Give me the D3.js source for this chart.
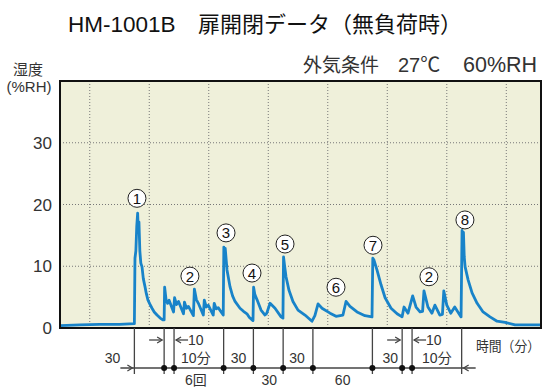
<!DOCTYPE html>
<html>
<head>
<meta charset="utf-8">
<script src="https://cdn.jsdelivr.net/npm/d3@7"></script>
<style>
body { margin: 0; background: #fff; }
text { font-family: "Liberation Sans", "Noto Sans CJK JP", sans-serif; }
</style>
</head>
<body>
<div id="chart"></div>
<script>
// humidity trace, time in minutes from chart start
const minutes = [0, 20, 40, 60, 75, 75.6, 76.5, 77.4, 78.3, 79, 79.6, 80.5, 81.5, 82.7, 84, 85.7, 87, 88.7, 90.5, 92.8, 95, 97.8, 101, 104,
    105, 105.5, 107, 108.5, 110, 114.5, 115.5, 117.5, 119.5, 124.5, 125.5, 127.5, 129.5, 134.5, 135.5, 137.5, 139.5, 144.5,
    145.5, 147.5, 149.5, 154.5, 155.5, 157.5, 159.5, 164.6,
    165.2, 166, 166.6, 168.4, 171.4, 174, 176.5, 181.5, 185, 188.5, 191, 194.6,
    195.2, 196.5, 198.6, 202.7, 206.7, 208.5, 211.8, 216.8, 222.9, 224.8,
    225.4, 226.5, 227.9, 230.9, 234.9, 240, 247, 254.1,
    257, 260.2, 264.2, 272.3, 278.3, 285.3, 288.4, 292.4, 299.5, 307.5, 314.6,
    315.4, 316.6, 319.6, 323.7, 327.8, 333.8, 339.9, 344.9,
    346.9, 350.9, 355.6, 359, 363, 365.6, 367, 371, 375, 378, 383, 385.6, 387, 390, 394, 398, 404.4,
    405.4, 406.2, 406.8, 407.6, 408.5, 411.5, 415.5, 420.6, 426.6, 433.6, 440.7, 448.7, 458.8, 485];
const rh = [0.4, 0.5, 0.6, 0.6, 0.7, 11.3, 12.5, 16.5, 18.6, 15.5, 17.2, 12.5, 10.5, 9.9, 8.0, 6.7, 5.6, 4.5, 3.9, 3.2, 2.6, 2.1, 1.6, 1.3,
    1.3, 6.6, 4.5, 4.0, 4.5, 2.6, 4.9, 3.8, 4.3, 2.3, 4.2, 3.2, 3.5, 2.0, 6.3, 4.6, 4.0, 2.1,
    4.5, 3.4, 3.7, 2.1, 4.0, 3.1, 3.3, 2.1,
    13.1, 11.5, 12.9, 9.4, 6.7, 5.2, 4.3, 3.2, 2.7, 2.3, 1.7, 1.2,
    6.6, 5.4, 4.6, 2.9, 2.1, 2.4, 4.0, 3.2, 1.8, 1.6,
    11.5, 10, 8.3, 6.1, 4.3, 2.9, 2.1, 1.1,
    2.0, 3.9, 3.2, 2.4, 1.9, 2.1, 4.3, 3.5, 2.6, 2.0, 1.8,
    11.3, 11.0, 9.4, 7.0, 4.9, 3.2, 2.3, 1.8,
    3.4, 2.4, 5.2, 3.4, 2.6, 2.7, 6.0, 3.4, 2.4, 3.7, 2.1, 2.2, 6.0, 3.7, 2.4, 3.4, 1.8,
    15.8, 13.5, 15.5, 11.5, 9.9, 7.8, 5.7, 4.0, 2.6, 1.8, 1.1, 0.9, 0.5, 0.5];

const yTicks = [0, 10, 20, 30];
const gridValues = [10, 20, 30];
const gridMinutes = [30, 90, 150, 210, 270, 330, 390, 450];

// door events
const eventMinutes = [75, 105, 115, 165, 195, 225, 255, 315, 345, 355, 405];
const dotMinutes = [105, 115, 165, 195, 225, 255, 315, 345, 355];
const cycleStarts = [105, 345];

const markerNames = ["1", "2", "3", "4", "5", "6", "7", "2", "8"];
const markerMinutes = [77.6, 131, 167.4, 193.6, 226.9, 278.3, 315.6, 372, 408.3];
const markerValues = [21, 8.4, 15.4, 8.9, 13.6, 6.6, 13.4, 8.3, 17.5];

const spanLabels = ["30", "10分", "30", "30", "30", "10分"];
const spanMinutes = [53, 137, 180, 239, 333, 380];
const totalLabels = ["6回", "30", "60"];
const totalMinutes = [137, 211, 285];

const width = 550, height = 390;
const svg = d3.select("#chart").append("svg")
    .attr("width", width)
    .attr("height", height);

const x = d3.scaleLinear().domain([0, 485]).range([60, 541]);
const y = d3.scaleLinear().domain([0, 40]).range([328, 81]);

// titles
svg.append("text").attr("x", 68).attr("y", 32)
    .style("font-size", "22.5px").attr("fill", "#111")
    .text("HM-1001B");
svg.append("text").attr("x", 198).attr("y", 32)
    .style("font-size", "22px").attr("fill", "#111")
    .text("扉開閉データ（無負荷時）");

svg.append("text").attr("x", 303).attr("y", 72)
    .style("font-size", "19px").attr("fill", "#333")
    .text("外気条件");
svg.append("text").attr("x", 398).attr("y", 72)
    .style("font-size", "20px").attr("fill", "#333")
    .text("27℃");
svg.append("text").attr("x", 463).attr("y", 72)
    .style("font-size", "21.5px").attr("fill", "#333")
    .text("60%RH");

svg.append("text").attr("x", 28).attr("y", 75)
    .attr("text-anchor", "middle")
    .style("font-size", "15px").attr("fill", "#333")
    .text("湿度");
svg.append("text").attr("x", 29).attr("y", 92)
    .attr("text-anchor", "middle")
    .style("font-size", "15px").attr("fill", "#333")
    .text("(%RH)");

// plot area
svg.append("rect")
    .attr("x", x(0)).attr("y", y(40))
    .attr("width", x(485) - x(0)).attr("height", y(0) - y(40))
    .attr("fill", "#eff0da");

svg.append("g").selectAll("line").data(gridValues).join("line")
    .attr("x1", x(0)).attr("x2", x(485))
    .attr("y1", d => y(d)).attr("y2", d => y(d))
    .attr("stroke", "#777").attr("stroke-width", 1)
    .attr("stroke-dasharray", "1,2");

svg.append("g").selectAll("line").data(gridMinutes).join("line")
    .attr("x1", d => x(d)).attr("x2", d => x(d))
    .attr("y1", y(40)).attr("y2", y(0))
    .attr("stroke", "#777").attr("stroke-width", 1)
    .attr("stroke-dasharray", "1,2");

svg.append("clipPath").attr("id", "plotclip")
    .append("rect")
    .attr("x", x(0)).attr("y", y(40))
    .attr("width", x(485) - x(0)).attr("height", y(0) - y(40));

const line = d3.line()
    .x(d => x(d[0]))
    .y(d => y(d[1]));

svg.append("path")
    .attr("d", line(d3.zip(minutes, rh)))
    .attr("clip-path", "url(#plotclip)")
    .attr("fill", "none")
    .attr("stroke", "#1883c9")
    .attr("stroke-width", 2.8)
    .attr("stroke-linejoin", "round");

svg.append("rect")
    .attr("x", x(0)).attr("y", y(40))
    .attr("width", x(485) - x(0)).attr("height", y(0) - y(40))
    .attr("fill", "none").attr("stroke", "#111").attr("stroke-width", 2);

// circled event numbers
const markers = svg.append("g").selectAll("g")
    .data(markerNames.map((n, i) => ({ n: n, t: markerMinutes[i], v: markerValues[i] })))
    .join("g")
    .attr("transform", d => `translate(${x(d.t)},${y(d.v)})`);
markers.append("circle").attr("r", 9)
    .attr("fill", "#fff").attr("stroke", "#222").attr("stroke-width", 1);
markers.append("text")
    .attr("text-anchor", "middle").attr("y", 5.5)
    .style("font-size", "15px").attr("fill", "#111")
    .text(d => d.n);

// y tick labels
svg.append("g").selectAll("text").data(yTicks).join("text")
    .attr("x", 52).attr("y", d => y(d) + 6)
    .attr("text-anchor", "end")
    .style("font-size", "17px").attr("fill", "#333")
    .text(d => d);

// timing annotation under the plot
const ann = svg.append("g").attr("stroke", "#444").attr("stroke-width", 1.3);
const rowY = 368, arrowY = 340;

ann.selectAll("line.ev").data(eventMinutes).join("line")
    .attr("class", "ev")
    .attr("x1", d => x(d)).attr("x2", d => x(d))
    .attr("y1", y(0)).attr("y2", 374);

ann.append("line")
    .attr("x1", x(eventMinutes[0]) - 14).attr("x2", x(eventMinutes[eventMinutes.length - 1]) + 14)
    .attr("y1", rowY).attr("y2", rowY);

function arrowHead(g, px, py, dir) {
    g.append("path")
        .attr("d", `M${px - dir * 5},${py - 3}L${px},${py}L${px - dir * 5},${py + 3}`)
        .attr("fill", "none");
}
arrowHead(ann, x(eventMinutes[0]) - 2, rowY, 1);
arrowHead(ann, x(eventMinutes[eventMinutes.length - 1]) + 2, rowY, -1);

cycleStarts.forEach(t => {
    const a = x(t), b = x(t + 10);
    ann.append("line").attr("x1", a - 15).attr("x2", a - 2)
        .attr("y1", arrowY).attr("y2", arrowY);
    arrowHead(ann, a - 2, arrowY, 1);
    ann.append("line").attr("x1", b + 2).attr("x2", b + 14)
        .attr("y1", arrowY).attr("y2", arrowY);
    arrowHead(ann, b + 2, arrowY, -1);
    svg.append("text").attr("x", b + 14).attr("y", arrowY + 5)
        .style("font-size", "14px").attr("fill", "#333")
        .text("10");
});

svg.append("g").selectAll("circle").data(dotMinutes).join("circle")
    .attr("cx", d => x(d)).attr("cy", rowY).attr("r", 3)
    .attr("fill", "#111");

svg.append("g").selectAll("text").data(spanLabels).join("text")
    .attr("x", (d, i) => x(spanMinutes[i])).attr("y", 363)
    .attr("text-anchor", "middle")
    .style("font-size", "14px").attr("fill", "#333")
    .text(d => d);

svg.append("g").selectAll("text").data(totalLabels).join("text")
    .attr("x", (d, i) => x(totalMinutes[i])).attr("y", 385)
    .attr("text-anchor", "middle")
    .style("font-size", "14px").attr("fill", "#333")
    .text(d => d);

svg.append("text").attr("x", 476).attr("y", 351)
    .style("font-size", "14px").attr("fill", "#333")
    .attr("textLength", 64).attr("lengthAdjust", "spacingAndGlyphs")
    .text("時間（分）");
</script>
</body>
</html>
